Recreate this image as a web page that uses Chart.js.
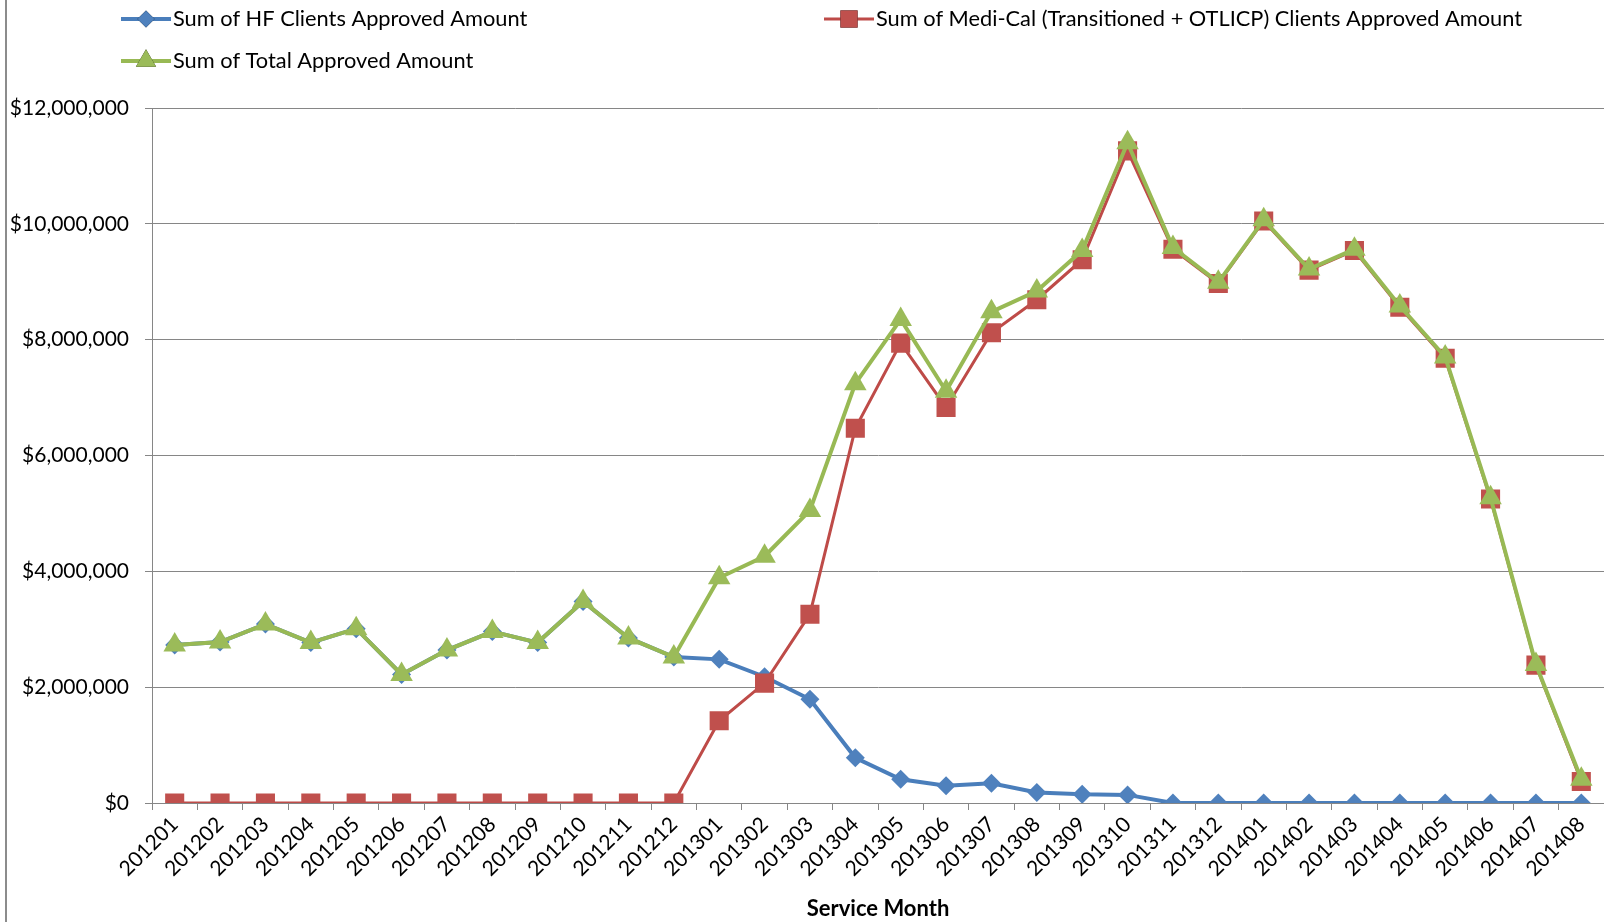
<!DOCTYPE html>
<html>
<head>
<meta charset="utf-8">
<script src="https://cdn.jsdelivr.net/npm/chart.js@4"></script>
<style>
  html, body { margin: 0; padding: 0; background: #ffffff; overflow: hidden; }
  #wrap { position: relative; width: 1604px; height: 922px; }
</style>
</head>
<body>
<div id="wrap"><canvas id="c" width="1604" height="922"></canvas></div>
<script>
const months = ["201201","201202","201203","201204","201205","201206","201207","201208","201209","201210","201211","201212",
  "201301","201302","201303","201304","201305","201306","201307","201308","201309","201310","201311","201312",
  "201401","201402","201403","201404","201405","201406","201407","201408"];

const hfApproved = [2730000,2780000,3090000,2770000,3010000,2220000,2640000,2960000,2770000,3480000,2850000,2520000,
  2480000,2180000,1790000,780000,410000,300000,340000,180000,150000,140000,0,0,
  0,0,0,0,0,0,0,0];

const mediCalApproved = [0,0,0,0,0,0,0,0,0,0,0,0,
  1420000,2070000,3260000,6470000,7940000,6830000,8120000,8690000,9380000,11260000,9560000,8970000,
  10050000,9200000,9540000,8560000,7680000,5250000,2380000,370000];

const totalApproved = [2730000,2780000,3090000,2770000,3010000,2220000,2640000,2960000,2770000,3480000,2850000,2520000,
  3890000,4260000,5050000,7240000,8350000,7110000,8480000,8840000,9540000,11400000,9590000,8990000,
  10070000,9220000,9560000,8580000,7700000,5270000,2390000,410000];

const seriesLabels = [
  "Sum of HF Clients Approved Amount",
  "Sum of Medi-Cal (Transitioned + OTLICP) Clients Approved Amount",
  "Sum of Total Approved Amount"
];
const yTicks = [0, 2000000, 4000000, 6000000, 8000000, 10000000, 12000000];
const xTitle = "Service Month";

const FONT = "Lato, 'Open Sans', sans-serif";

const legendPlugin = {
  id: 'excelLegend',
  afterDraw(chart) {
    const ctx = chart.ctx;
    const pos = [[121, 19], [824, 19], [121, 61]];
    chart.data.datasets.forEach((ds, i) => {
      const [x0, y] = pos[i];
      ctx.save();
      ctx.strokeStyle = ds.borderColor;
      ctx.lineWidth = ds.borderWidth;
      ctx.beginPath();
      ctx.moveTo(x0, y);
      ctx.lineTo(x0 + 50, y);
      ctx.stroke();
      const r = ds.pointRadius;
      Chart.helpers.drawPoint(ctx, {
        pointStyle: ds.pointStyle, radius: r * 0.9, rotation: 0, borderWidth: 0
      }, x0 + 25, y);
      ctx.fillStyle = ds.pointBackgroundColor;
      ctx.fill();
      ctx.fillStyle = '#000000';
      ctx.font = "21.8px " + FONT;
      ctx.textBaseline = 'middle';
      ctx.textAlign = 'left';
      ctx.fillText(ds.label, x0 + 52, y);
      ctx.restore();
    });
  }
};

const borderPlugin = {
  id: 'leftBorder',
  beforeDraw(chart) {
    const ctx = chart.ctx;
    ctx.save();
    ctx.fillStyle = '#ffffff';
    ctx.fillRect(0, 0, chart.width, chart.height);
    ctx.strokeStyle = '#8c8c8c';
    ctx.lineWidth = 2;
    ctx.beginPath();
    ctx.moveTo(6, 0);
    ctx.lineTo(6, chart.height);
    ctx.stroke();
    ctx.restore();
  }
};

new Chart(document.getElementById('c'), {
  type: 'line',
  data: {
    labels: months,
    datasets: [
      {
        label: seriesLabels[0],
        data: hfApproved,
        borderColor: '#4A7EBB',
        backgroundColor: '#4F81BD',
        pointBackgroundColor: '#4F81BD',
        pointBorderColor: '#4F81BD',
        borderWidth: 4,
        pointStyle: 'rectRot',
        pointRadius: 9.5,
        pointBorderWidth: 0,
        tension: 0,
        order: 2
      },
      {
        label: seriesLabels[1],
        data: mediCalApproved,
        borderColor: '#BE4B48',
        backgroundColor: '#C0504D',
        pointBackgroundColor: '#C0504D',
        pointBorderColor: '#C0504D',
        borderWidth: 3,
        pointStyle: 'rect',
        pointRadius: 13.5,
        pointBorderWidth: 0,
        tension: 0,
        order: 1
      },
      {
        label: seriesLabels[2],
        data: totalApproved,
        borderColor: '#98B954',
        backgroundColor: '#9BBB59',
        pointBackgroundColor: '#9BBB59',
        pointBorderColor: '#9BBB59',
        borderWidth: 4,
        pointStyle: 'triangle',
        pointRadius: 13,
        pointBorderWidth: 0,
        tension: 0,
        order: 0
      }
    ]
  },
  options: {
    responsive: false,
    maintainAspectRatio: false,
    animation: false,
    layout: { autoPadding: false, padding: { top: 108, left: 0, right: 0, bottom: 0 } },
    plugins: {
      legend: { display: false },
      tooltip: { enabled: false },
      title: { display: false }
    },
    elements: { line: { fill: false } },
    scales: {
      x: {
        type: 'category',
        offset: true,
        grid: {
          display: true,
          offset: true,
          drawOnChartArea: false,
          drawTicks: true,
          tickLength: 7,
          color: '#868686'
        },
        border: { display: true, color: '#868686', width: 1 },
        ticks: {
          autoSkip: false,
          maxRotation: 45,
          minRotation: 45,
          color: '#000000',
          font: { family: FONT, size: 21 },
          padding: 2
        },
        title: {
          display: true,
          text: xTitle,
          color: '#000000',
          font: { family: FONT, size: 22, weight: 'bold' },
          padding: { top: 0, bottom: 0 }
        },
        afterFit(scale) {
          scale.height = 119;
          scale.paddingRight = 0;
        }
      },
      y: {
        min: 0,
        max: 12000000,
        afterBuildTicks(scale) { scale.ticks = yTicks.map(v => ({ value: v })); },
        grid: {
          color: '#868686',
          lineWidth: 1,
          drawTicks: true,
          tickLength: 7
        },
        border: { display: true, color: '#868686', width: 1 },
        ticks: {
          color: '#000000',
          font: { family: FONT, size: 21 },
          padding: 16,
          callback: (v) => '$' + Number(v).toLocaleString('en-US')
        },
        afterFit(scale) { scale.width = 152; }
      }
    }
  },
  plugins: [borderPlugin, legendPlugin]
});
</script>
</body>
</html>
